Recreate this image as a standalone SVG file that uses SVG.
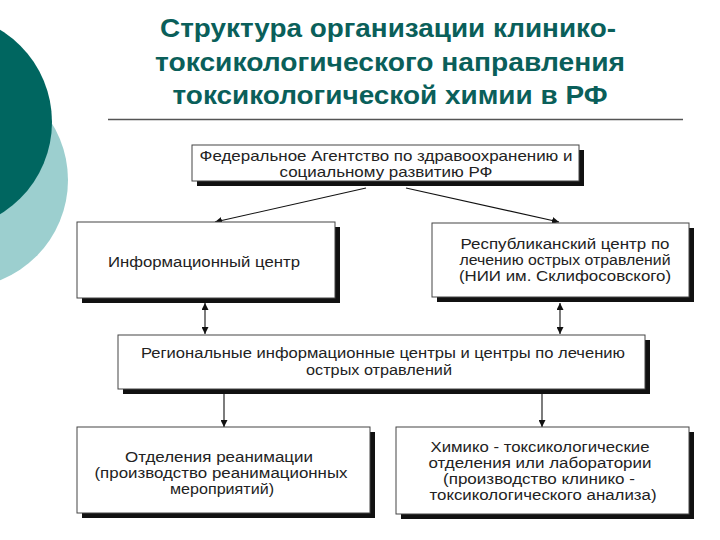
<svg xmlns="http://www.w3.org/2000/svg" width="720" height="540" viewBox="0 0 720 540">
<defs>
<style>
.title{font-family:"Liberation Sans",Arial,sans-serif;font-weight:bold;font-size:25px;fill:#0a5f5a;text-anchor:middle}
.box{fill:#fff;stroke:#444;stroke-width:1}
.shadow{fill:#111}
.t{font-family:"Liberation Sans",Arial,sans-serif;font-size:15.5px;fill:#222;text-anchor:middle}
.s{font-size:14.5px}
.c{stroke:#111;stroke-width:1.1;fill:none}
</style>
<marker id="ah" viewBox="0 0 10 10" refX="10" refY="5" markerWidth="7" markerHeight="7" markerUnits="userSpaceOnUse" orient="auto-start-reverse">
<path d="M0,0 L10,5 L0,10 Z" fill="#111"/>
</marker>
</defs>
<rect width="720" height="540" fill="#fff"/>
<g id="decor">
<circle cx="-40" cy="180" r="108" fill="#9ccfcf"/>
<circle cx="-56" cy="122" r="108" fill="#006660"/>
</g>
<g id="title">
<text class="title" x="388" y="37" textLength="456" lengthAdjust="spacingAndGlyphs">Структура организации клинико-</text>
<text class="title" x="390" y="71" textLength="470" lengthAdjust="spacingAndGlyphs">токсикологического направления</text>
<text class="title" x="390" y="104" textLength="435" lengthAdjust="spacingAndGlyphs">токсикологической химии в РФ</text>
<line x1="108" y1="119.5" x2="683" y2="119.5" stroke="#555" stroke-width="1.5"/>
</g>
<g id="connectors">
<line class="c" x1="366" y1="188" x2="215" y2="222" marker-end="url(#ah)"/>
<line class="c" x1="406" y1="188" x2="559" y2="222" marker-end="url(#ah)"/>
<line class="c" x1="205" y1="303" x2="205" y2="334" marker-start="url(#ah)" marker-end="url(#ah)"/>
<line class="c" x1="560" y1="303" x2="560" y2="334" marker-start="url(#ah)" marker-end="url(#ah)"/>
<line class="c" x1="224" y1="394" x2="224" y2="427" marker-end="url(#ah)"/>
<line class="c" x1="542" y1="394" x2="542" y2="427" marker-end="url(#ah)"/>
</g>
<g id="federal">
<rect class="shadow" x="197" y="150" width="387" height="36"/>
<rect class="box" x="192" y="145" width="387" height="36"/>
<text class="t s" x="386" y="161" textLength="373" lengthAdjust="spacingAndGlyphs">Федеральное Агентство по здравоохранению и</text>
<text class="t s" x="386" y="177" textLength="213" lengthAdjust="spacingAndGlyphs">социальному развитию РФ</text>
</g>
<g id="info">
<rect class="shadow" x="82" y="227" width="258" height="76"/>
<rect class="box" x="77" y="222" width="258" height="76"/>
<text class="t" x="204" y="267" textLength="192" lengthAdjust="spacingAndGlyphs">Информационный центр</text>
</g>
<g id="republic">
<rect class="shadow" x="437" y="228" width="257" height="74"/>
<rect class="box" x="432" y="223" width="257" height="74"/>
<text class="t" x="565" y="249" textLength="209" lengthAdjust="spacingAndGlyphs">Республиканский центр по</text>
<text class="t" x="565" y="265" textLength="211" lengthAdjust="spacingAndGlyphs">лечению острых отравлений</text>
<text class="t" x="565" y="281" textLength="212" lengthAdjust="spacingAndGlyphs">(НИИ им. Склифосовского)</text>
</g>
<g id="regional">
<rect class="shadow" x="123" y="340" width="527" height="54"/>
<rect class="box" x="118" y="335" width="527" height="54"/>
<text class="t" x="383" y="358" textLength="484" lengthAdjust="spacingAndGlyphs">Региональные информационные центры и центры по лечению</text>
<text class="t" x="379" y="375" textLength="146" lengthAdjust="spacingAndGlyphs">острых отравлений</text>
</g>
<g id="reanim">
<rect class="shadow" x="82" y="432" width="293" height="86"/>
<rect class="box" x="77" y="427" width="293" height="86"/>
<text class="t" x="219" y="462" textLength="188" lengthAdjust="spacingAndGlyphs">Отделения реанимации</text>
<text class="t" x="221" y="478" textLength="253" lengthAdjust="spacingAndGlyphs">(производство реанимационных</text>
<text class="t" x="222" y="494" textLength="104" lengthAdjust="spacingAndGlyphs">мероприятий)</text>
</g>
<g id="chem">
<rect class="shadow" x="401" y="432" width="293" height="87"/>
<rect class="box" x="396" y="427" width="293" height="87"/>
<text class="t" x="540" y="452" textLength="219" lengthAdjust="spacingAndGlyphs">Химико - токсикологические</text>
<text class="t" x="540" y="468" textLength="223" lengthAdjust="spacingAndGlyphs">отделения или лаборатории</text>
<text class="t" x="539" y="484" textLength="192" lengthAdjust="spacingAndGlyphs">(производство клинико -</text>
<text class="t" x="543" y="500" textLength="227" lengthAdjust="spacingAndGlyphs">токсикологического анализа)</text>
</g>
</svg>
